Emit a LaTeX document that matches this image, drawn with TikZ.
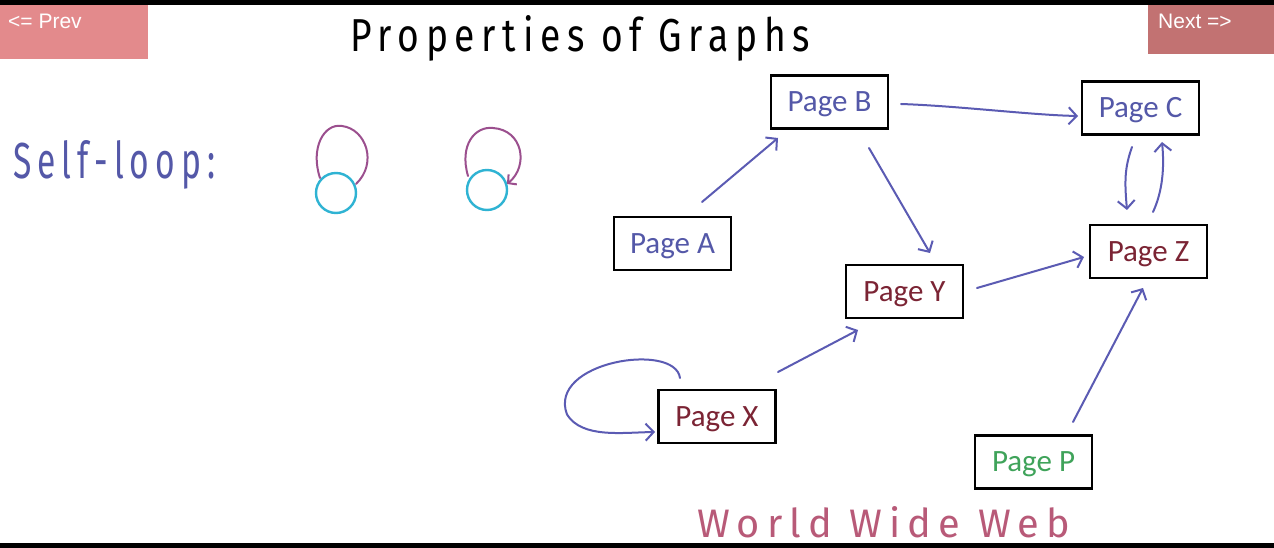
\documentclass[tikz,border=0pt]{standalone}
\usepackage{fontspec}
\usepackage{graphicx}
\usetikzlibrary{arrows.meta,calc}
\setmainfont{Carlito}
\newfontfamily\hand{Fira Sans}[LetterSpace=18]
\newfontfamily\btnfont{Liberation Sans}
\definecolor{btnprev}{HTML}{E38A8C}
\definecolor{btnnext}{HTML}{C27272}
\definecolor{arrblue}{HTML}{5B5BB3}
\definecolor{txtblue}{HTML}{5458A8}
\definecolor{txtred}{HTML}{7B2434}
\definecolor{txtgreen}{HTML}{3FA35A}
\definecolor{circcyan}{HTML}{2FB3D3}
\definecolor{looppurple}{HTML}{9B4F8E}
\definecolor{wwwred}{HTML}{B85A78}
\tikzset{
  page/.style={draw=black, line width=2.4pt, minimum width=117pt, minimum height=53pt, inner sep=0pt, text height=21pt, text depth=2pt, font=\fontsize{31}{34}\selectfont},
  arr/.style={draw=arrblue, line width=2pt, line cap=round, -{Straight Barb[length=8pt,width=17pt,line width=2pt]}},
  vnode/.style={draw=circcyan, line width=2.4pt, circle, minimum size=40pt, inner sep=0pt},
  loopline/.style={draw=looppurple, line width=2pt, line cap=round},
  btn/.style={inner sep=0pt, anchor=north west, text=white, font=\btnfont\fontsize{21}{23}\selectfont}
}
\begin{document}
\begin{tikzpicture}[x=1pt,y=-1pt]
\useasboundingbox (0,0) rectangle (1274,548);
\fill[white] (0,0) rectangle (1274,548);
\fill[black] (0,0) rectangle (1274,5);
\fill[black] (0,543) rectangle (1274,548);
% buttons
\fill[btnprev] (0,5) rectangle (148,59);
\fill[btnnext] (1148,5) rectangle (1274,54);
\node[btn] (prev) at (8,14) {<= Prev};
\node[btn] (next) at (1158,14) {Next =>};
% title
\node[anchor=north west, inner sep=0pt] (title) at (350,15) {\resizebox{460pt}{36pt}{\hand\color{black}Properties of Graphs}};
% self-loop
\node[anchor=north west, inner sep=0pt] (sl) at (13,140) {\resizebox{202pt}{38pt}{\hand\color{txtblue}Self-loop:}};
\node[vnode] (c1) at (336,193) {};
\node[vnode] (c2) at (487,190) {};
\draw[loopline] ($(c1)+(-16,-15)$) .. controls ($(c1)+(-26,-45)$) and ($(c1)+(-12,-70)$) .. ($(c1)+(6,-67)$) .. controls ($(c1)+(30,-64)$) and ($(c1)+(42,-30)$) .. ($(c1)+(20,-9)$);
\draw[loopline, -{Straight Barb[length=6pt,width=13pt,line width=2pt]}] ($(c2)+(-19,-14)$) .. controls ($(c2)+(-28,-45)$) and ($(c2)+(-12,-64)$) .. ($(c2)+(6,-62)$) .. controls ($(c2)+(36,-60)$) and ($(c2)+(42,-24)$) .. ($(c2)+(20,-6)$);
% pages
\node[page, text=txtblue] (B) at (829.5,102) {Page B};
\node[page, text=txtblue] (C) at (1140.5,108) {Page C};
\node[page, text=txtblue] (A) at (672.5,243.5) {Page A};
\node[page, text=txtred] (Y) at (904.5,291.5) {Page Y};
\node[page, text=txtred] (Z) at (1148.5,251.5) {Page Z};
\node[page, text=txtred] (X) at (717,416.5) {Page X};
\node[page, text=txtgreen] (P) at (1033.5,462) {Page P};
% edges
\draw[arr] ($(A)+(29.5,-41.5)$) -- ($(B)+(-51.5,36)$);
\draw[arr] ($(B)+(39.5,46)$) -- ($(Y)+(25.5,-38.5)$);
\draw[arr] ($(B)+(71.5,2)$) .. controls ($(B)+(130,4)$) and ($(C)+(-110,7)$) .. ($(C)+(-62.5,8)$);
\draw[arr] ($(C)+(-8.5,39)$) .. controls ($(C)+(-16,60)$) and ($(Z)+(-24,-70)$) .. ($(Z)+(-21.5,-41.5)$);
\draw[arr] ($(Z)+(4.5,-39.5)$) .. controls ($(Z)+(14,-60)$) and ($(C)+(24,60)$) .. ($(C)+(21.5,34)$);
\draw[arr] ($(Y)+(72.5,-3.5)$) -- ($(Z)+(-64.5,5.5)$);
\draw[arr] ($(X)+(61,-44.5)$) -- ($(Y)+(-46.5,38.5)$);
\draw[arr] ($(P)+(39.5,-40)$) -- ($(Z)+(-5.5,36.5)$);
\draw[arr] ($(X)+(-37,-38.5)$) .. controls ($(X)+(-42,-75)$) and ($(X)+(-170,-55)$) .. ($(X)+(-150,-2)$) .. controls ($(X)+(-135,22)$) and ($(X)+(-95,16)$) .. ($(X)+(-62,15.5)$);
% www
\node[anchor=north west, inner sep=0pt] (www) at (697,506) {\resizebox{373pt}{31pt}{\hand\color{wwwred}World Wide Web}};
\end{tikzpicture}
\end{document}
